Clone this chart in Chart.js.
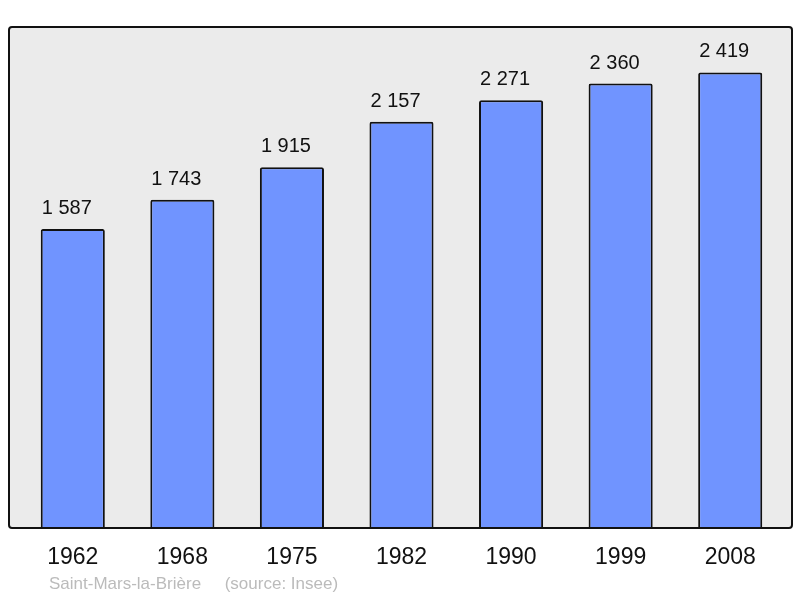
<!DOCTYPE html>
<html>
<head>
<meta charset="utf-8">
<script src="https://cdn.jsdelivr.net/npm/chart.js@4/dist/chart.umd.min.js"></script>
<style>
  body { margin: 0; background: #fff; }
  canvas { display: block; }
</style>
</head>
<body>
<canvas id="myChart" width="800" height="598"></canvas>
<script>
const years = ["1962", "1968", "1975", "1982", "1990", "1999", "2008"];
const population = [1587, 1743, 1915, 2157, 2271, 2360, 2419];
const footerText = "Saint-Mars-la-Brière     (source: Insee)";

const canvas = document.getElementById("myChart");
const ctx = canvas.getContext('2d');

function fmt(v) {
  return String(v).replace(/\B(?=(\d{3})+(?!\d))/g, " ");
}

// grey box behind the bars
const boxPlugin = {
  id: "box",
  beforeDatasetsDraw(chart) {
    const a = chart.chartArea;
    const c = chart.ctx;
    const x = a.left - 9, y = a.top, w = a.right - a.left + 16, h = a.bottom - a.top;
    c.save();
    c.beginPath();
    c.roundRect(x, y, w, h, 3);
    c.fillStyle = "#ebebeb";
    c.fill();
    c.restore();
  },
  afterDatasetsDraw(chart) {
    const a = chart.chartArea;
    const c = chart.ctx;
    const x = a.left - 9, y = a.top, w = a.right - a.left + 16, h = a.bottom - a.top;
    c.save();
    c.beginPath();
    c.roundRect(x, y, w, h, 3);
    c.lineWidth = 2;
    c.strokeStyle = "#111";
    c.stroke();
    // value labels
    c.font = "20px 'Liberation Sans', Arial, sans-serif";
    c.fillStyle = "#111";
    c.textAlign = "left";
    c.textBaseline = "alphabetic";
    chart.getDatasetMeta(0).data.forEach(function(bar, i) {
      c.fillText(fmt(population[i]), bar.x - bar.width / 2 + 1, bar.y - 15);
    });
    // footer
    c.font = "17px 'Liberation Sans', Arial, sans-serif";
    c.fillStyle = "#bbbbbb";
    c.fillText(footerText, 49, 589);
    c.restore();
  }
};

const myChart = new Chart(ctx, {
  type: "bar",
  data: {
    labels: years,
    datasets: [{
      data: population,
      backgroundColor: "#7094ff",
      borderColor: "#111",
      borderWidth: 2,
      borderSkipped: "bottom",
      borderRadius: { topLeft: 2, topRight: 2 },
      barPercentage: 0.585,
      categoryPercentage: 1.0
    }]
  },
  options: {
    responsive: false,
    animation: false,
    layout: { padding: { left: 18, right: 15, top: 27, bottom: 0 } },
    plugins: {
      legend: { display: false },
      tooltip: { enabled: false },
      title: { display: false }
    },
    scales: {
      y: {
        display: false,
        min: 0,
        max: 2660
      },
      x: {
        grid: { display: false, drawTicks: false },
        border: { display: false },
        ticks: {
          color: "#111",
          padding: 16,
          font: { family: "'Liberation Sans', Arial, sans-serif", size: 23 }
        },
        afterFit(scale) { scale.height = 70; }
      }
    }
  },
  plugins: [boxPlugin]
});
</script>
</body>
</html>
